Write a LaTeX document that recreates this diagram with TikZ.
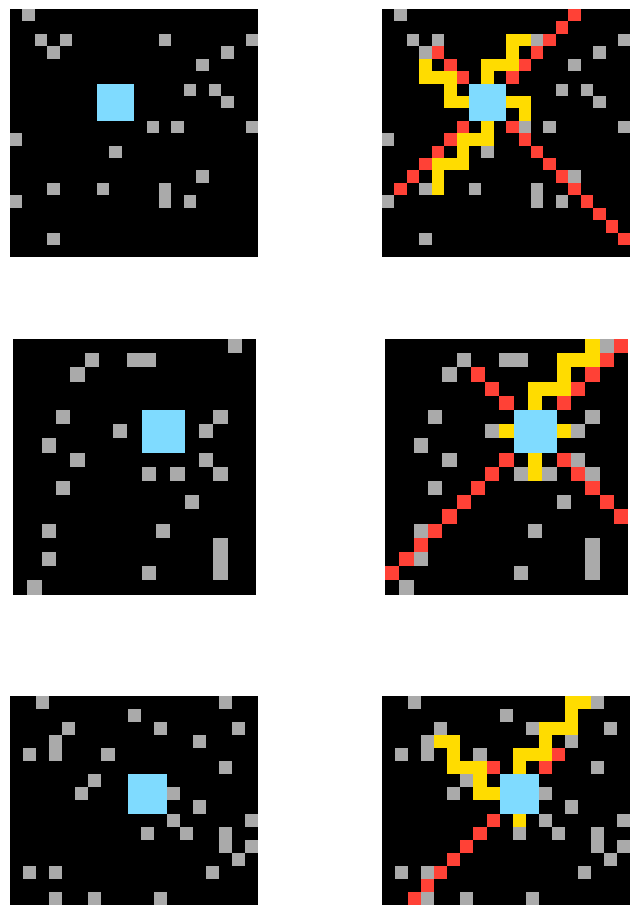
\documentclass[tikz,border=0pt]{standalone}
\usepackage{tikz}

\definecolor{cellgrey}{HTML}{AAAAAA}
\definecolor{cellblue}{HTML}{7FDBFF}
\definecolor{cellred}{HTML}{FF4136}
\definecolor{cellyellow}{HTML}{FFDC00}

% grey cells shared by each input and its output
\newcommand{\greyA}{1/0, 2/2, 4/2, 12/2, 19/2, 3/3, 17/3, 15/4, 14/6, 16/6, 17/7, 11/9, 13/9, 19/9, 0/10, 8/11, 15/13, 3/14, 7/14, 12/14, 0/15, 12/15, 14/15, 3/18}
\newcommand{\greyB}{15/0, 5/1, 8/1, 9/1, 4/2, 3/5, 14/5, 7/6, 13/6, 2/7, 4/8, 13/8, 9/9, 11/9, 14/9, 3/10, 12/11, 2/13, 10/13, 14/14, 14/15, 14/16, 2/15, 9/16, 1/17}
\newcommand{\greyC}{2/0, 16/0, 9/1, 4/2, 11/2, 17/2, 3/3, 14/3, 1/4, 3/4, 7/4, 16/5, 6/6, 5/7, 12/7, 14/8, 12/9, 18/9, 10/10, 13/10, 16/10, 16/11, 18/11, 17/12, 1/13, 3/13, 15/13, 3/15, 6/15, 11/15}

\begin{document}
\begin{tikzpicture}[
x=1pt, y=-1pt,
board/.style={fill=black},
grey/.style={fill=cellgrey},
blue/.style={fill=cellblue},
red/.style={fill=cellred},
yellow/.style={fill=cellyellow}
]
\useasboundingbox (0,0) rectangle (639,915);

% pair 1
\begin{scope}[shift={(10,9)}, x=12.42pt, y=-12.42pt]
\fill[board] (0,0) rectangle (20,20);
\foreach \c/\r in \greyA \fill[grey] (\c,\r) rectangle ++(1,1);
\fill[blue] (7,6) rectangle ++(3,3);
\end{scope}

\begin{scope}[shift={(382,9)}, x=12.42pt, y=-12.42pt]
\fill[board] (0,0) rectangle (20,20);
\foreach \c/\r in \greyA \fill[grey] (\c,\r) rectangle ++(1,1);
\fill[blue] (7,6) rectangle ++(3,3);
\foreach \c/\r in {15/0, 14/1, 13/2, 12/3, 11/4, 10/5, 6/9, 5/10, 4/11, 3/12, 2/13, 1/14,
  4/3, 5/4, 6/5, 10/9, 11/10, 12/11, 13/12, 14/13, 15/14, 16/15, 17/16, 18/17, 19/18}
  \fill[red] (\c,\r) rectangle ++(1,1);
\foreach \c/\r in {10/2, 11/2, 10/3, 3/4, 8/4, 9/4, 10/4, 3/5, 4/5, 5/5, 8/5, 5/6, 5/7, 6/7,
  10/7, 11/7, 11/8, 8/9, 6/10, 7/10, 8/10, 6/11, 4/12, 5/12, 6/12, 4/13, 4/14}
  \fill[yellow] (\c,\r) rectangle ++(1,1);
\end{scope}

% pair 2
\begin{scope}[shift={(13,339)}, x=14.31pt, y=-14.2pt]
\fill[board] (0,0) rectangle (17,18);
\foreach \c/\r in \greyB \fill[grey] (\c,\r) rectangle ++(1,1);
\fill[blue] (9,5) rectangle ++(3,3);
\end{scope}

\begin{scope}[shift={(385,339)}, x=14.31pt, y=-14.2pt]
\fill[board] (0,0) rectangle (17,18);
\foreach \c/\r in \greyB \fill[grey] (\c,\r) rectangle ++(1,1);
\fill[blue] (9,5) rectangle ++(3,3);
\foreach \c/\r in {16/0, 15/1, 14/2, 13/3, 12/4, 6/2, 7/3, 8/4, 8/8, 7/9, 6/10, 5/11, 4/12,
  3/13, 2/14, 1/15, 0/16, 12/8, 13/9, 14/10, 15/11, 16/12}
  \fill[red] (\c,\r) rectangle ++(1,1);
\foreach \c/\r in {14/0, 12/1, 13/1, 14/1, 12/2, 10/3, 11/3, 12/3, 10/4, 8/6, 12/6, 10/8, 10/9}
  \fill[yellow] (\c,\r) rectangle ++(1,1);
\end{scope}

% pair 3
\begin{scope}[shift={(10,696)}, x=13.07pt, y=-13.06pt]
\fill[board] (0,0) rectangle (19,16);
\foreach \c/\r in \greyC \fill[grey] (\c,\r) rectangle ++(1,1);
\fill[blue] (9,6) rectangle ++(3,3);
\end{scope}

\begin{scope}[shift={(382,696)}, x=13.07pt, y=-13.06pt]
\fill[board] (0,0) rectangle (19,16);
\foreach \c/\r in \greyC \fill[grey] (\c,\r) rectangle ++(1,1);
\fill[blue] (9,6) rectangle ++(3,3);
\foreach \c/\r in {13/4, 12/5, 8/5, 8/9, 7/10, 6/11, 5/12, 4/13, 3/14, 2/15}
  \fill[red] (\c,\r) rectangle ++(1,1);
\foreach \c/\r in {14/0, 15/0, 14/1, 12/2, 13/2, 14/2, 4/3, 5/3, 12/3, 5/4, 10/4, 11/4, 12/4,
  5/5, 6/5, 7/5, 10/5, 7/6, 7/7, 8/7, 10/9}
  \fill[yellow] (\c,\r) rectangle ++(1,1);
\end{scope}

\end{tikzpicture}
\end{document}
